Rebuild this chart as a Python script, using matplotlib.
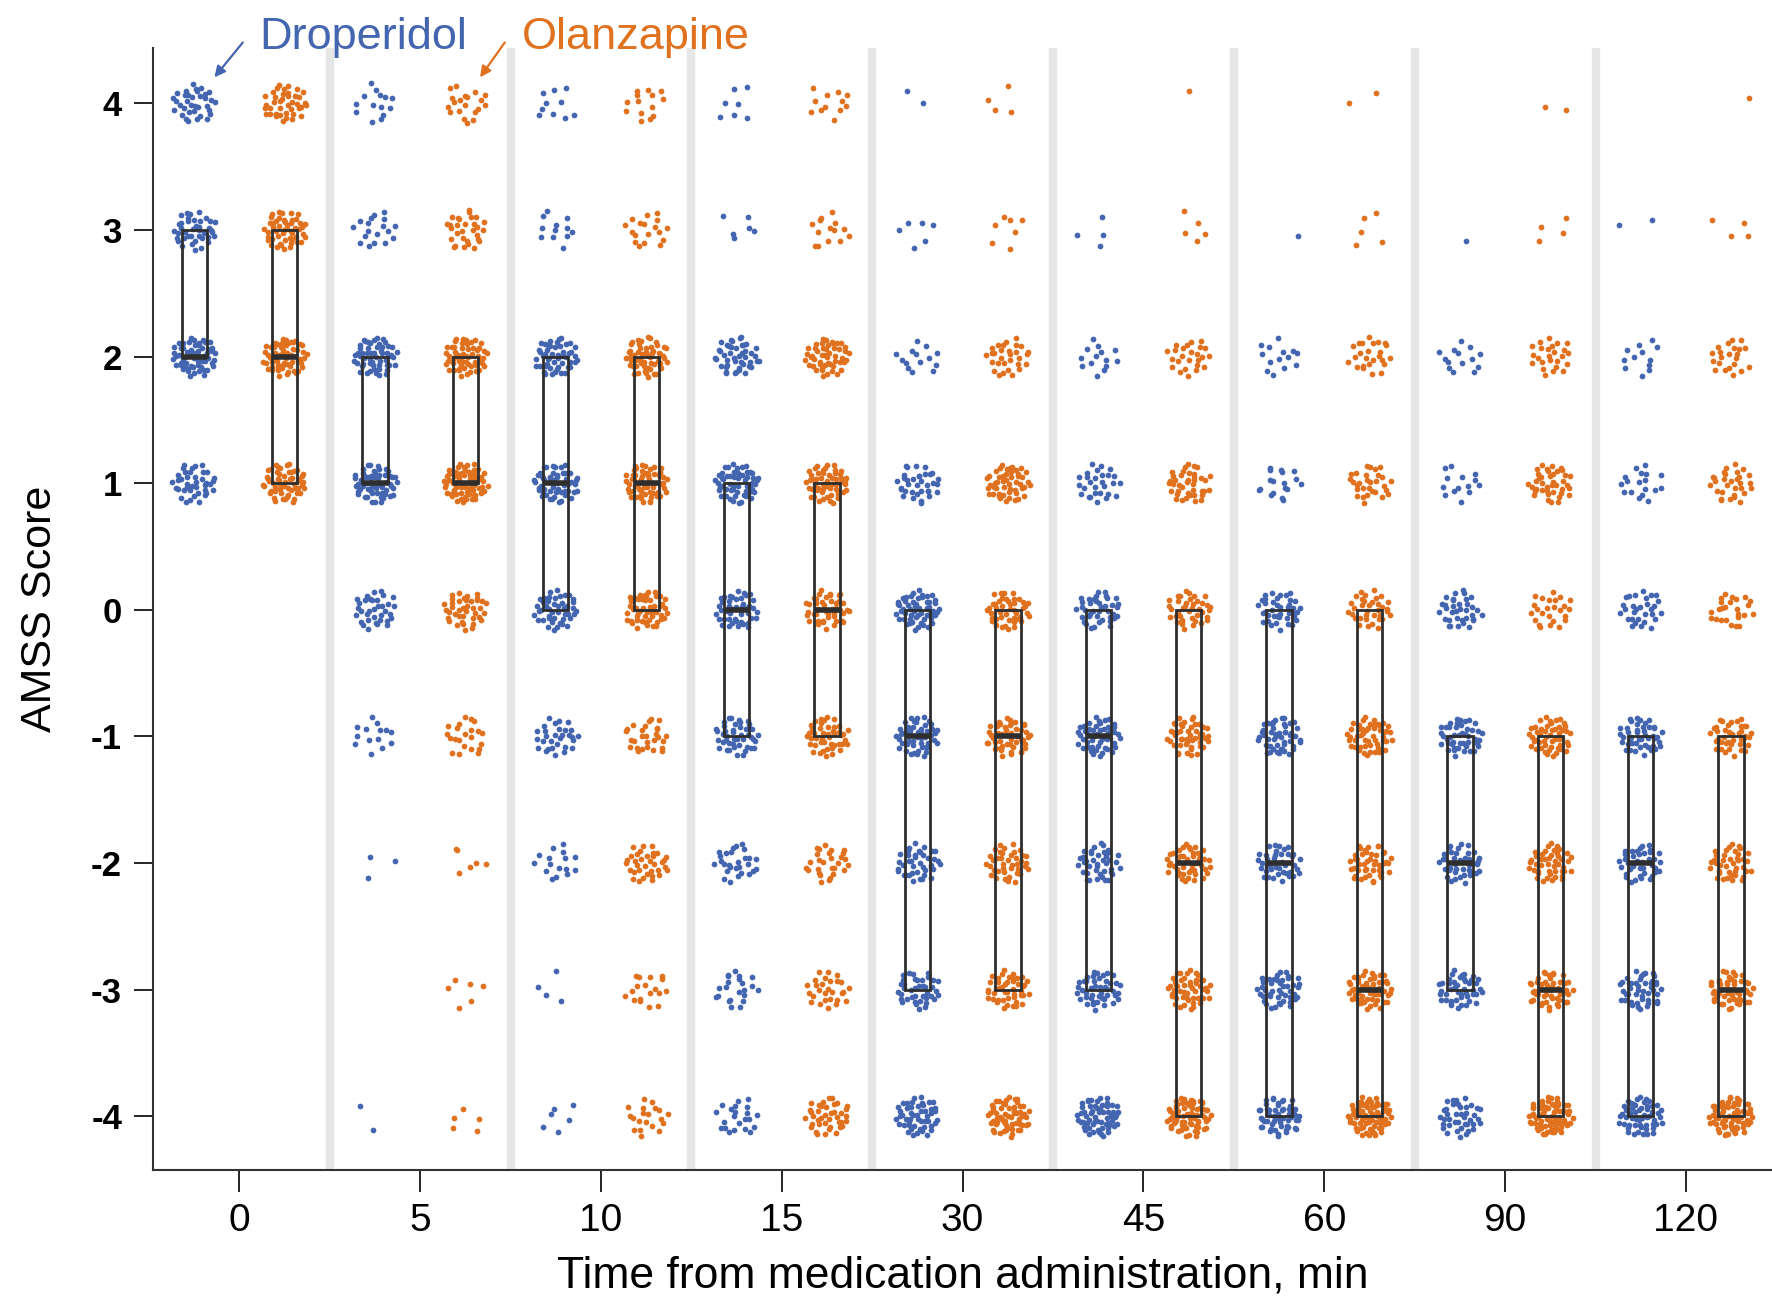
"""
AMSS score over time, droperidol vs olanzapine: jittered counts with IQR boxes.
"""
import numpy as np
import matplotlib
matplotlib.use('Agg')
import matplotlib.pyplot as plt

times = ['0', '5', '10', '15', '30', '45', '60', '90', '120']
scores = [4, 3, 2, 1, 0, -1, -2, -3, -4]

# number of patients at each score (rows = time, cols = score 4 .. -4)
drop_counts = [
    [35, 40, 60, 40, 0, 0, 0, 0, 0],
    [14, 18, 55, 60, 35, 14, 3, 0, 2],
    [10, 12, 50, 55, 45, 30, 16, 4, 6],
    [7, 6, 45, 55, 45, 45, 28, 22, 22],
    [2, 6, 14, 35, 55, 50, 40, 40, 50],
    [0, 4, 14, 28, 40, 50, 40, 45, 60],
    [0, 1, 14, 18, 40, 50, 40, 45, 55],
    [0, 1, 14, 14, 35, 45, 40, 45, 40],
    [0, 2, 12, 18, 30, 45, 40, 45, 55],
]
olan_counts = [
    [40, 50, 60, 55, 0, 0, 0, 0, 0],
    [20, 30, 55, 65, 40, 22, 6, 6, 5],
    [14, 18, 55, 60, 50, 28, 35, 18, 20],
    [12, 14, 50, 55, 45, 45, 28, 28, 40],
    [4, 7, 30, 50, 45, 50, 40, 45, 60],
    [1, 5, 25, 40, 40, 50, 45, 50, 70],
    [2, 5, 25, 30, 35, 50, 45, 55, 70],
    [2, 4, 25, 40, 25, 50, 45, 50, 70],
    [1, 4, 22, 30, 25, 40, 40, 50, 70],
]

# box summaries: (q1, median, q3)
drop_box = [(2, 2, 3), (1, 1, 2), (0, 1, 2), (-1, 0, 1), (-3, -1, 0),
            (-3, -1, 0), (-4, -2, 0), (-3, -2, -1), (-4, -2, -1)]
olan_box = [(1, 2, 3), (1, 1, 2), (0, 1, 2), (-1, 0, 1), (-3, -1, 0),
            (-4, -2, 0), (-4, -3, 0), (-4, -3, -1), (-4, -3, -1)]

BLUE = '#4465b0'
ORANGE = '#e0711f'
BOXC = '#2e2e2e'
FONT = 'Liberation Sans'


def halton(i, b):
    f, r = 1.0, 0.0
    while i > 0:
        f /= b
        r += f * (i % b)
        i //= b
    return r


def disc(n, start, rx=0.125, ry=0.16):
    # deterministic low-discrepancy spread inside a small ellipse
    k = np.arange(start, start + n)
    u = np.array([halton(j, 2) for j in k])
    v = np.array([halton(j, 3) for j in k])
    r = np.sqrt(u)
    return rx * r * np.cos(2 * np.pi * v), ry * r * np.sin(2 * np.pi * v)


fig = plt.figure(figsize=(17.72, 12.99), dpi=100)
ax = fig.add_axes([0.0861, 0.0996, 0.9139, 0.8638])

for i in range(len(times) - 1):
    ax.axvline(i + 0.5, color='#e6e6e6', lw=6, zorder=0)

seed = 1
for i in range(len(times)):
    for counts, off, col in ((drop_counts, -0.25, BLUE), (olan_counts, 0.25, ORANGE)):
        for s, n in zip(scores, counts[i]):
            if n == 0:
                continue
            dx, dy = disc(n, seed)
            seed += n + 7
            ax.scatter(i + off + dx, s + dy, s=17, color=col, lw=0, zorder=2)

bw = 0.14
for i in range(len(times)):
    for box, off in ((drop_box[i], -0.25), (olan_box[i], 0.25)):
        q1, med, q3 = box
        x0 = i + off
        ax.add_patch(plt.Rectangle((x0 - bw / 2, q1), bw, q3 - q1, fill=False,
                                   ec=BOXC, lw=2, zorder=3))
        ax.plot([x0 - bw / 2, x0 + bw / 2], [med, med], color=BOXC, lw=4,
                solid_capstyle='butt', zorder=4)

ax.set_xlim(-0.48, 8.476)
ax.set_ylim(-4.42, 4.44)
ax.set_xticks(range(len(times)))
ax.set_xticklabels(times, family=FONT, fontsize=28)
ax.set_yticks(scores)
ax.set_yticklabels([str(s) for s in scores], family=FONT, fontsize=25, fontweight='bold')
ax.tick_params(axis='x', length=16, width=1.2, pad=8)
ax.tick_params(axis='y', length=14, width=1.2, pad=8)
for side in ('top', 'right'):
    ax.spines[side].set_visible(False)
for side in ('left', 'bottom'):
    ax.spines[side].set_linewidth(1.5)
    ax.spines[side].set_color('#333333')

ax.set_xlabel('Time from medication administration, min',
              family=FONT, fontsize=32, labelpad=12)
ax.set_ylabel('AMSS Score', family=FONT, fontsize=31, labelpad=22)

ax.text(0.11, 4.52, 'Droperidol', color=BLUE, fontsize=32.5, family=FONT,
        ha='left', va='center', clip_on=False)
ax.text(1.56, 4.52, 'Olanzapine', color=ORANGE, fontsize=32.5, family=FONT,
        ha='left', va='center', clip_on=False)
ax.annotate('', xy=(-0.138, 4.205), xytext=(0.019, 4.48), annotation_clip=False,
            arrowprops=dict(arrowstyle='-|>', color=BLUE, lw=1.6,
                            mutation_scale=16, shrinkA=0, shrinkB=0))
ax.annotate('', xy=(1.331, 4.205), xytext=(1.468, 4.48), annotation_clip=False,
            arrowprops=dict(arrowstyle='-|>', color=ORANGE, lw=1.6,
                            mutation_scale=16, shrinkA=0, shrinkB=0))

fig.savefig('out.png', dpi=100)
